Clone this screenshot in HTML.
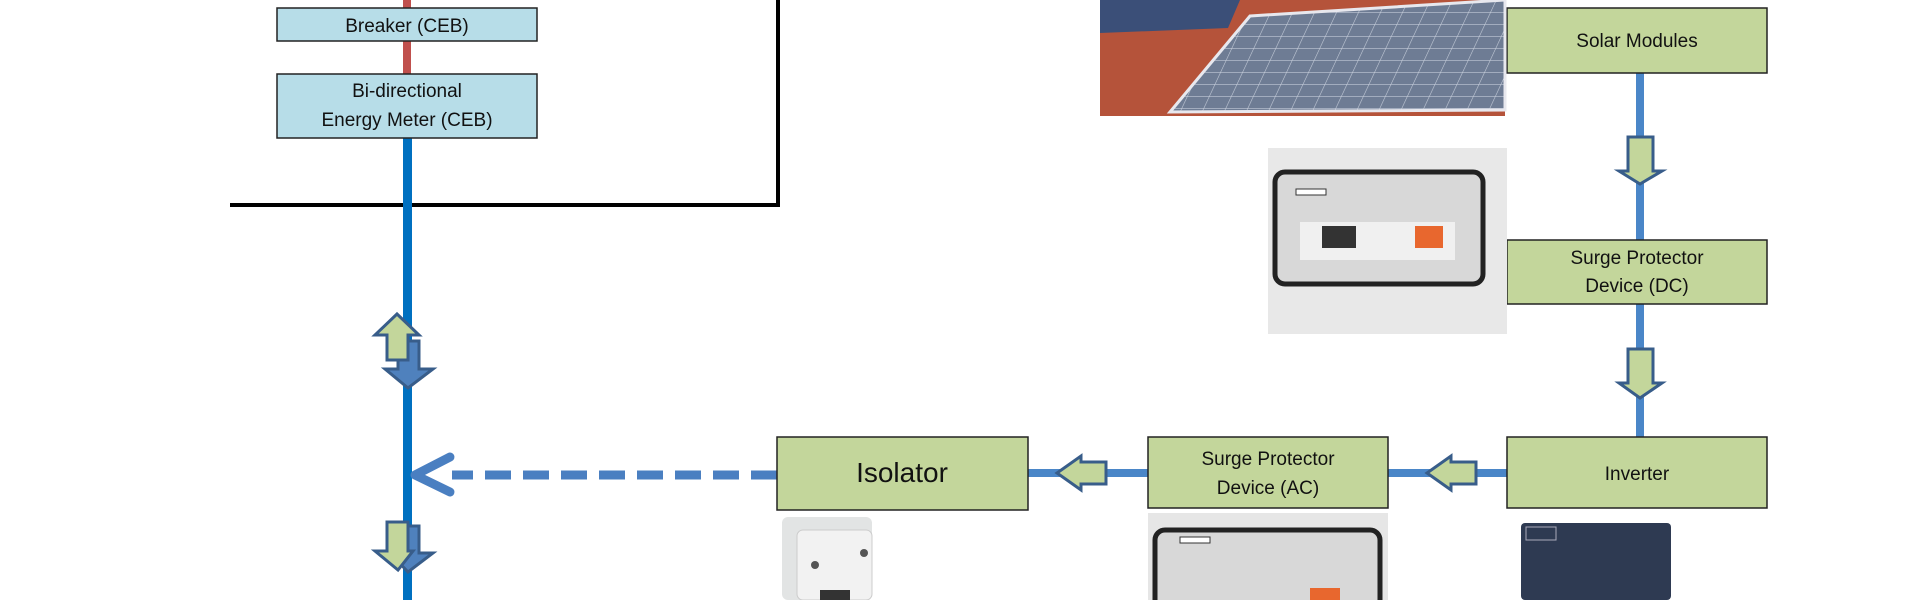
<!DOCTYPE html>
<html><head><meta charset="utf-8"><style>
html,body{margin:0;padding:0;background:#fff;width:1920px;height:600px;overflow:hidden}
svg{display:block}
text{font-family:"Liberation Sans",sans-serif;fill:#111}
</style></head><body>
<svg width="1920" height="600" viewBox="0 0 1920 600" xmlns="http://www.w3.org/2000/svg">
<defs>
<pattern id="grid" width="22" height="12" patternUnits="userSpaceOnUse" patternTransform="skewX(-25)">
<rect width="22" height="12" fill="#6e7c94"/>
<path d="M0 0H22M0 0V12" stroke="#c8cfdc" stroke-width="1.2"/>
</pattern>
</defs>
<!-- black frame -->
<path d="M230 205 H778 V0" fill="none" stroke="#000" stroke-width="4"/>
<!-- red line -->
<rect x="403" y="0" width="8" height="75" fill="#c0504d"/>
<!-- blue main -->
<rect x="403" y="138" width="9" height="462" fill="#0070c0"/>
<!-- CEB boxes -->
<rect x="277" y="8" width="260" height="33" fill="#b7dde8" stroke="#222" stroke-width="1.5"/>
<text x="407" y="32" font-size="19" text-anchor="middle">Breaker (CEB)</text>
<rect x="277" y="74" width="260" height="64" fill="#b7dde8" stroke="#222" stroke-width="1.5"/>
<text x="407" y="97" font-size="19" text-anchor="middle">Bi-directional</text>
<text x="407" y="126" font-size="19" text-anchor="middle">Energy Meter (CEB)</text>
<!-- bidirectional arrows (upper) -->
<path d="M398 341 H419 V369 H433 L408 388 L385 369 H398 Z" fill="#4f81bd" stroke="#385d8a" stroke-width="3"/>
<path d="M387 360 V335 H375 L397 314 L419 335 H408 V360 Z" fill="#c3d69b" stroke="#385d8a" stroke-width="3"/>
<!-- lower arrows -->
<path d="M402 526 H419 V553 H433 L408 572 L390 553 H402 Z" fill="#4f81bd" stroke="#385d8a" stroke-width="3"/>
<path d="M387 522 H408 V551 H413 L398 570 L375 551 H387 Z" fill="#c3d69b" stroke="#385d8a" stroke-width="3"/>
<!-- dashed line -->
<line x1="777" y1="475" x2="452" y2="475" stroke="#4a7fc1" stroke-width="9" stroke-dasharray="26 12"/>
<path d="M415 475 L450 457 M415 475 L450 492" stroke="#4a7fc1" stroke-width="9" stroke-linecap="round" fill="none"/>
<!-- right blue lines -->
<rect x="1636" y="73" width="8" height="364" fill="#4a86c8"/>
<rect x="1388" y="469" width="119" height="8" fill="#4a86c8"/>
<rect x="1028" y="469" width="120" height="8" fill="#4a86c8"/>
<!-- down arrows -->
<path d="M1628 137 H1653 V171 H1662 L1640 184 L1619 171 H1628 Z" fill="#c3d69b" stroke="#385d8a" stroke-width="3"/>
<path d="M1628 349 H1653 V383 H1662 L1640 398 L1619 383 H1628 Z" fill="#c3d69b" stroke="#385d8a" stroke-width="3"/>
<!-- left arrows -->
<path d="M1476 462 V484 H1451 V490 L1427 473 L1451 456 V462 Z" fill="#c3d69b" stroke="#385d8a" stroke-width="3"/>
<path d="M1106 462 V484 H1081 V490 L1057 473 L1081 456 V462 Z" fill="#c3d69b" stroke="#385d8a" stroke-width="3"/>
<!-- green boxes -->
<g stroke="#222" stroke-width="1.5" fill="#c3d69b">
<rect x="1507" y="8" width="260" height="65"/>
<rect x="1507" y="240" width="260" height="64"/>
<rect x="1507" y="437" width="260" height="71"/>
<rect x="1148" y="437" width="240" height="71"/>
<rect x="777" y="437" width="251" height="73"/>
</g>
<text x="1637" y="47" font-size="19" text-anchor="middle">Solar Modules</text>
<text x="1637" y="264" font-size="19" text-anchor="middle">Surge Protector</text>
<text x="1637" y="292" font-size="19" text-anchor="middle">Device (DC)</text>
<text x="1637" y="480" font-size="19" text-anchor="middle">Inverter</text>
<text x="1268" y="465" font-size="19" text-anchor="middle">Surge Protector</text>
<text x="1268" y="494" font-size="19" text-anchor="middle">Device (AC)</text>
<text x="902" y="482" font-size="28" text-anchor="middle">Isolator</text>
<!-- solar photo -->
<rect x="1100" y="0" width="405" height="116" fill="#b5533a"/>
<path d="M1100 0 H1240 L1228 28 L1100 33 Z" fill="#3b4f78"/>
<path d="M1250 16 L1505 0 V110 L1170 112 Z" fill="url(#grid)" stroke="#e8e8ee" stroke-width="3"/>
<!-- DC SPD photo -->
<rect x="1268" y="148" width="239" height="186" fill="#e8e8e8"/>
<rect x="1275" y="172" width="208" height="112" rx="10" fill="#d8d8d8" stroke="#222" stroke-width="5"/>
<rect x="1300" y="222" width="155" height="38" fill="#f0f0f0"/>
<rect x="1322" y="226" width="34" height="22" fill="#333"/>
<rect x="1415" y="226" width="28" height="22" fill="#e8672e"/>
<rect x="1296" y="189" width="30" height="6" fill="#fff" stroke="#333"/>
<!-- AC SPD photo -->
<rect x="1148" y="513" width="240" height="87" fill="#e6e6e6"/>
<rect x="1155" y="530" width="225" height="80" rx="10" fill="#d8d8d8" stroke="#222" stroke-width="5"/>
<rect x="1180" y="537" width="30" height="6" fill="#fff" stroke="#333"/>
<rect x="1310" y="588" width="30" height="12" fill="#e8672e"/>
<!-- inverter photo -->
<rect x="1521" y="523" width="150" height="77" rx="4" fill="#2e3a52"/>
<rect x="1526" y="527" width="30" height="13" fill="none" stroke="#aab" stroke-width="1"/>
<!-- isolator photo -->
<rect x="782" y="517" width="90" height="83" rx="6" fill="#e2e4e4"/>
<rect x="797" y="530" width="75" height="70" rx="6" fill="#f2f2f2" stroke="#ccc"/>
<circle cx="815" cy="565" r="4" fill="#555"/>
<circle cx="864" cy="553" r="4" fill="#555"/>
<rect x="820" y="590" width="30" height="10" fill="#333"/>
</svg>
</body></html>
